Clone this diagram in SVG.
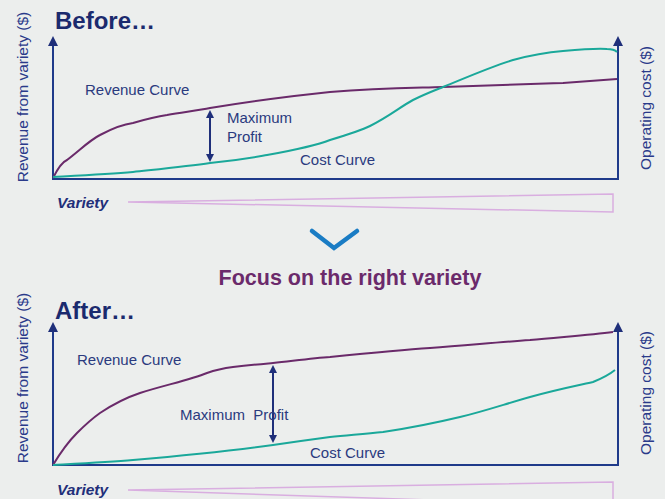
<svg xmlns="http://www.w3.org/2000/svg" width="665" height="499" viewBox="0 0 665 499">
<defs>
<marker id="ah" markerWidth="8" markerHeight="8" refX="4" refY="4" orient="auto-start-reverse" markerUnits="userSpaceOnUse"><path d="M0,0 L8,4 L0,8 Z" fill="#1f2f7a"/></marker>
<style>
.title{font-family:"Liberation Sans",Arial,sans-serif;font-weight:bold;font-size:24px;fill:#1b2a6e}
.lbl{font-family:"Liberation Sans",Arial,sans-serif;font-size:15px;fill:#2a3a7e}
.ax{font-family:"Liberation Sans",Arial,sans-serif;font-size:15.5px;fill:#2a3a8a}
.var{font-family:"Liberation Sans",Arial,sans-serif;font-size:15.5px;font-weight:bold;font-style:italic;fill:#1f2f7a}
.axis{fill:none;stroke:#1f3a8a;stroke-width:2}
.rev{fill:none;stroke:#6a2a6a;stroke-width:2}
.cost{fill:none;stroke:#1aa89a;stroke-width:2}
.dbl{stroke:#1f2f7a;stroke-width:2;marker-start:url(#ah);marker-end:url(#ah)}
.wedge{fill:none;stroke:#d9aee0;stroke-width:1.5}
.focus{font-family:"Liberation Sans",Arial,sans-serif;font-weight:bold;font-size:21.5px;fill:#6b2a6b}
</style>
</defs>
<rect width="665" height="499" fill="#eceeed"/>

<g id="before">
<text class="title" x="55" y="29">Before…</text>
<text class="ax" transform="translate(28,97) rotate(-90)" text-anchor="middle">Revenue from variety ($)</text>
<text class="ax" transform="translate(651,108) rotate(-90)" text-anchor="middle">Operating cost ($)</text>
<path class="axis" d="M53,46 V179 H618 V46"/>
<path d="M48,46 L53,36 L58,46 Z M613,46 L618,36 L623,46 Z" fill="#1f2f7a"/>
<path class="rev" d="M53,178 C58,168 62,162 67,160 C80,150 90,140 100,135 C115,127 125,124 133,123 C150,118 160,116 167,115 C185,112 200,110 210,108 C260,100 300,95 330,92 C380,88 410,88 443,87 C500,85 530,84 563,83 C590,81 605,80 617,79"/>
<path class="cost" d="M53,177 C90,175 110,174 133,172 C170,168 190,166 210,163 C240,160 250,158 267,155 C295,150 315,146 330,140 C350,134 360,131 370,126 C390,116 400,107 413,100 C425,94 433,91 443,87 C470,76 490,67 513,60 C535,54 550,52 563,51 C585,49 598,48 607,49 C612,49 615,50 617,52"/>
<line class="dbl" x1="210" y1="114" x2="210" y2="158"/>
<text class="lbl" x="85" y="95">Revenue Curve</text>
<text class="lbl" x="227" y="123">Maximum</text>
<text class="lbl" x="227" y="142">Profit</text>
<text class="lbl" x="300" y="165">Cost Curve</text>
<text class="var" x="57" y="208">Variety</text>
<path class="wedge" d="M128,202 L613,194 L613,212 Z"/>
</g>

<g id="focus">
<path d="M312,231 L334,248 L357,231" fill="none" stroke="#1a7cc4" stroke-width="4.5" stroke-linecap="round" stroke-linejoin="miter"/>
<text class="focus" x="350" y="285" text-anchor="middle">Focus on the right variety</text>
</g>

<g id="after">
<text class="title" x="55" y="319">After…</text>
<text class="ax" transform="translate(28,378) rotate(-90)" text-anchor="middle">Revenue from variety ($)</text>
<text class="ax" transform="translate(651,393) rotate(-90)" text-anchor="middle">Operating cost ($)</text>
<path class="axis" d="M53,332 V465 H618 V332"/>
<path d="M48,332 L53,322 L58,332 Z M613,332 L618,322 L623,332 Z" fill="#1f2f7a"/>
<path class="rev" d="M53,465 C62,450 70,440 77,433 C85,425 93,418 100,413 C115,403 128,397 140,393 C165,385 190,380 207,373 C218,369 225,368 233,367 C250,365 262,364 273,363 C300,360 315,358 330,357 C370,353 400,350 430,348 C470,345 500,342 530,340 C560,337 590,335 613,332"/>
<path class="cost" d="M53,465 C90,463 110,462 133,460 C180,456 230,451 273,445 C300,441 315,439 330,437 C350,435 365,434 383,432 C410,428 435,423 460,417 C485,411 505,404 530,397 C555,390 575,386 593,382 C603,378 610,374 615,370"/>
<line class="dbl" x1="273" y1="369" x2="273" y2="439"/>
<text class="lbl" x="77" y="365">Revenue Curve</text>
<text class="lbl" x="180" y="420" xml:space="preserve">Maximum  Profit</text>
<text class="lbl" x="310" y="458">Cost Curve</text>
<text class="var" x="57" y="495">Variety</text>
<path class="wedge" d="M128,490 L613,482 L613,506 Z"/>
</g>
</svg>
